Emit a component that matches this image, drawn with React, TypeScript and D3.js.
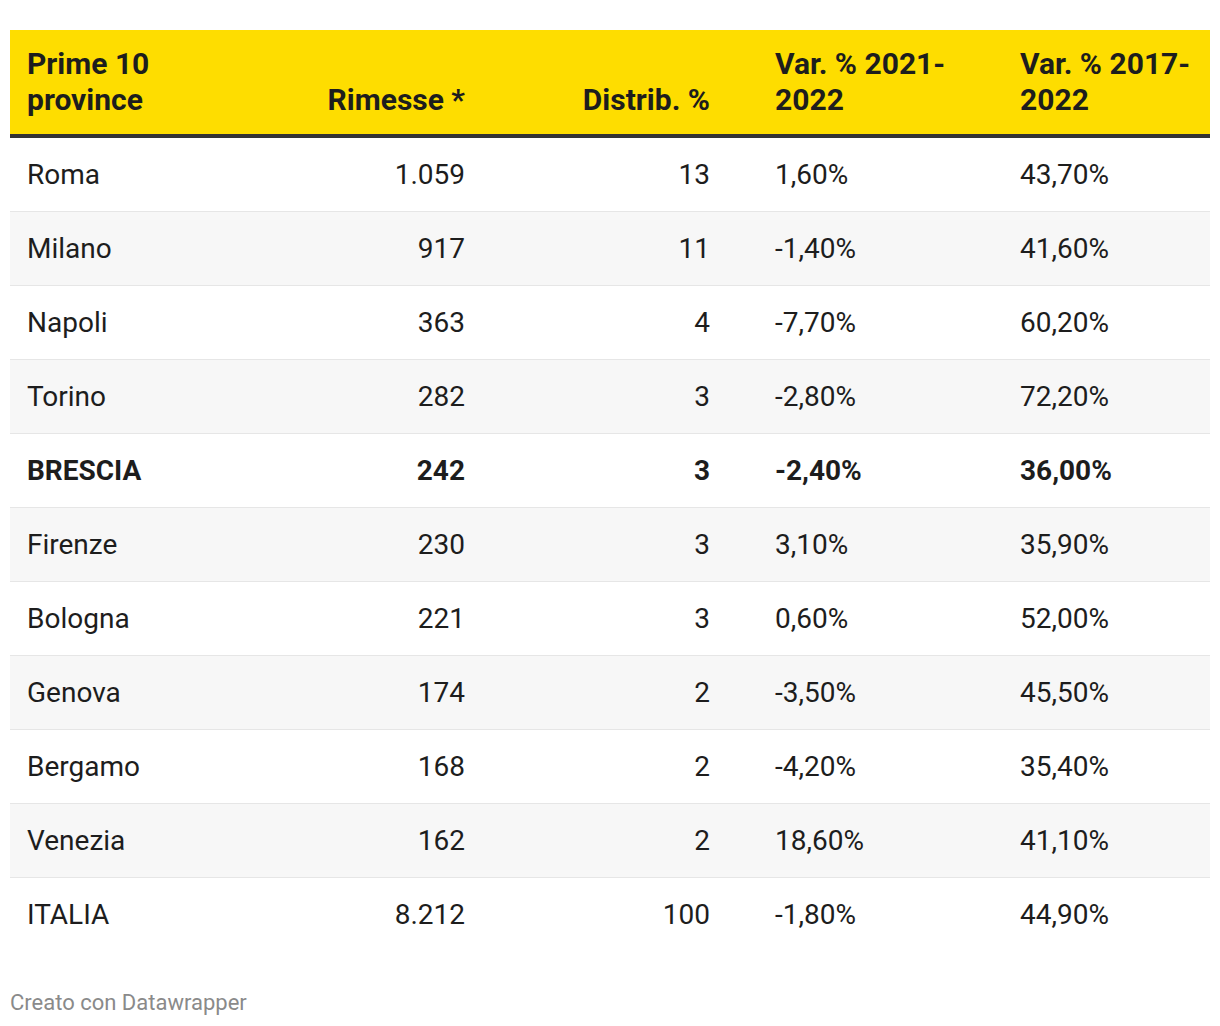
import React from "react";
import * as d3 from "d3";

const headers = ["Prime 10\nprovince", "Rimesse *", "Distrib. %", "Var. % 2021-\n2022", "Var. % 2017-\n2022"];
const provinces = ["Roma", "Milano", "Napoli", "Torino", "BRESCIA", "Firenze", "Bologna", "Genova", "Bergamo", "Venezia", "ITALIA"];
const rimesse = ["1.059", "917", "363", "282", "242", "230", "221", "174", "168", "162", "8.212"];
const distrib = ["13", "11", "4", "3", "3", "3", "3", "2", "2", "2", "100"];
const var2122 = ["1,60%", "-1,40%", "-7,70%", "-2,80%", "-2,40%", "3,10%", "0,60%", "-3,50%", "-4,20%", "18,60%", "-1,80%"];
const var1722 = ["43,70%", "41,60%", "60,20%", "72,20%", "36,00%", "35,90%", "52,00%", "45,50%", "35,40%", "41,10%", "44,90%"];
const boldRows = ["BRESCIA"];

const W = 1220;
const H = 1026;
const FONT = "Roboto, 'Noto Sans', sans-serif";

export default function App() {
  const y = d3.scaleBand<string>().domain(provinces).range([138, 138 + 74 * provinces.length]).paddingInner(0);
  const cols = [
    { x: 27, anchor: "start", vals: provinces },
    { x: 465, anchor: "end", vals: rimesse },
    { x: 710, anchor: "end", vals: distrib },
    { x: 775, anchor: "start", vals: var2122 },
    { x: 1020, anchor: "start", vals: var1722 },
  ];
  return (
    <svg width={W} height={H} style={{ position: "absolute", left: 0, top: 0, background: "#fff" }} fontFamily={FONT}>
      <rect x={10} y={30} width={1200} height={104} fill="#fedd00" />
      <rect x={10} y={134} width={1200} height={4} fill="#333333" />
      {cols.map((c, ci) => {
        const lines = headers[ci].split("\n");
        return (
          <text key={"h" + ci} x={c.x} textAnchor={c.anchor as any} fontWeight={700} fontSize={30} fill="#1d1d1d">
            {lines.map((l, li) => (
              <tspan key={li} x={c.x} y={110 - (lines.length - 1 - li) * 36}>{l}</tspan>
            ))}
          </text>
        );
      })}
      {provinces.map((p, i) => {
        const top = y(p)!;
        const bold = boldRows.includes(p);
        return (
          <g key={p}>
            <rect x={10} y={top} width={1200} height={y.bandwidth()} fill={i % 2 === 1 ? "#f7f7f7" : "#ffffff"} />
            {i < provinces.length - 1 && <rect x={10} y={top + y.bandwidth() - 1} width={1200} height={2} fill="#e6e6e6" />}
            {cols.map((c, ci) => (
              <text key={ci} x={c.x} y={top + 46} textAnchor={c.anchor as any} fontSize={28} fontWeight={bold ? 700 : 400} fill="#1d1d1d">
                {c.vals[i]}
              </text>
            ))}
          </g>
        );
      })}
      <text x={10} y={1010} fontSize={22} fill="#8a8a8a">Creato con Datawrapper</text>
    </svg>
  );
}
